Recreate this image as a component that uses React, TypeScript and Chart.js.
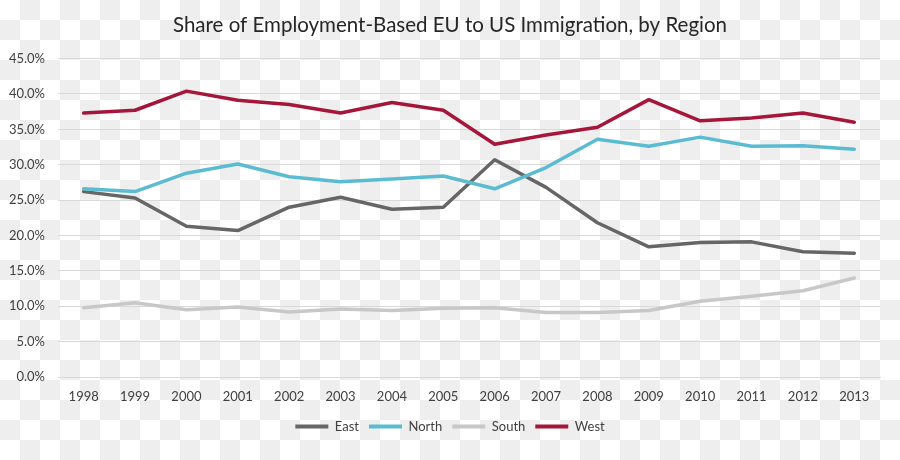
import React, { useEffect, useRef } from "react";
import { Chart, registerables } from "chart.js";

Chart.register(...registerables);

const years = ["1998","1999","2000","2001","2002","2003","2004","2005","2006","2007","2008","2009","2010","2011","2012","2013"];
const east = [26.2, 25.3, 21.3, 20.7, 24.0, 25.4, 23.7, 24.0, 30.7, 26.8, 21.8, 18.4, 19.0, 19.1, 17.7, 17.5];
const north = [26.6, 26.2, 28.8, 30.1, 28.3, 27.6, 28.0, 28.4, 26.6, 29.6, 33.6, 32.6, 33.9, 32.6, 32.7, 32.2];
const south = [9.8, 10.5, 9.5, 9.9, 9.2, 9.6, 9.4, 9.7, 9.8, 9.1, 9.1, 9.4, 10.7, 11.4, 12.2, 14.0];
const west = [37.3, 37.7, 40.4, 39.1, 38.5, 37.3, 38.8, 37.7, 32.9, 34.2, 35.3, 39.2, 36.2, 36.6, 37.3, 36.0];
const seriesNames = ["East", "North", "South", "West"];
const yTicks = [0, 5, 10, 15, 20, 25, 30, 35, 40, 45];

const FONT = "Lato, 'Open Sans', sans-serif";

const checker = {
  id: "checker",
  beforeDraw(chart: any) {
    const ctx = chart.ctx;
    ctx.save();
    ctx.fillStyle = "#ffffff";
    ctx.fillRect(0, 0, chart.width, chart.height);
    ctx.fillStyle = "#eeeeee";
    for (let y = 0; y < chart.height; y += 20) {
      for (let x = 0; x < chart.width; x += 20) {
        if (((x / 20) + (y / 20)) % 2 === 1) ctx.fillRect(x, y, 20, 20);
      }
    }
    ctx.restore();
  },
};

export default function App() {
  const ref = useRef<HTMLCanvasElement>(null);
  useEffect(() => {
    const colors = ["#666666", "#5bbcd1", "#c8c8c8", "#a5163b"];
    const values = [east, north, south, west];
    const chart = new Chart(ref.current!, {
      type: "line",
      data: {
        labels: years,
        datasets: seriesNames.map((name, i) => ({
          label: name,
          data: values[i],
          borderColor: colors[i],
          backgroundColor: colors[i],
          borderWidth: 3.5,
          pointRadius: 0,
          tension: 0,
          borderCapStyle: "round" as const,
          borderJoinStyle: "round" as const,
          order: 4 - i,
        })),
      },
      options: {
        responsive: false,
        animation: false,
        layout: { padding: { top: 13, right: 0, left: 0, bottom: 17 } },
        plugins: {
          title: {
            display: true,
            text: "Share of Employment-Based EU to US Immigration, by Region",
            color: "#262626",
            font: { family: FONT, size: 20.5, weight: "normal" },
            padding: { top: 0, bottom: 21 },
          },
          legend: {
            position: "bottom",
            labels: {
              color: "#404040",
              font: { family: FONT, size: 13 },
              boxWidth: 33,
              boxHeight: 4,
              padding: 10,
              sort: (a: any, b: any) => a.datasetIndex - b.datasetIndex,
              generateLabels: (c: any) =>
                Chart.defaults.plugins.legend.labels.generateLabels(c).map((l: any) => ({
                  ...l,
                  fillStyle: l.strokeStyle,
                  lineWidth: 0,
                })),
            },
          },
          tooltip: { enabled: false },
        },
        scales: {
          x: {
            offset: true,
            grid: { display: false, drawTicks: false, offset: true },
            border: { display: true, color: "#d9d9d9", width: 1 },
            ticks: { color: "#404040", font: { family: FONT, size: 13 }, padding: 12, maxRotation: 0 },
            afterFit: (s: any) => {
              s.height = 33;
            },
          },
          y: {
            min: 0,
            max: 45,
            afterBuildTicks: (s: any) => {
              s.ticks = yTicks.map((v) => ({ value: v }));
            },
            afterFit: (s: any) => {
              s.width = 58;
            },
            grid: { color: "#d9d9d9", lineWidth: 1, drawTicks: false },
            border: { display: false },
            ticks: {
              color: "#404040",
              font: { family: FONT, size: 13 },
              padding: 13,
              callback: (v: any) => Number(v).toFixed(1) + "%",
            },
          },
          yRight: {
            position: "right",
            min: 0,
            max: 45,
            grid: { display: false, drawTicks: false },
            border: { display: false },
            ticks: { display: false },
            afterFit: (s: any) => {
              s.width = 20;
            },
          },
        },
      },
      plugins: [checker],
    });
    return () => chart.destroy();
  }, []);
  return (
    <div style={{ position: "fixed", left: 0, top: 0, width: 900, height: 460 }}>
      <canvas ref={ref} width={900} height={460} style={{ display: "block" }} />
    </div>
  );
}
